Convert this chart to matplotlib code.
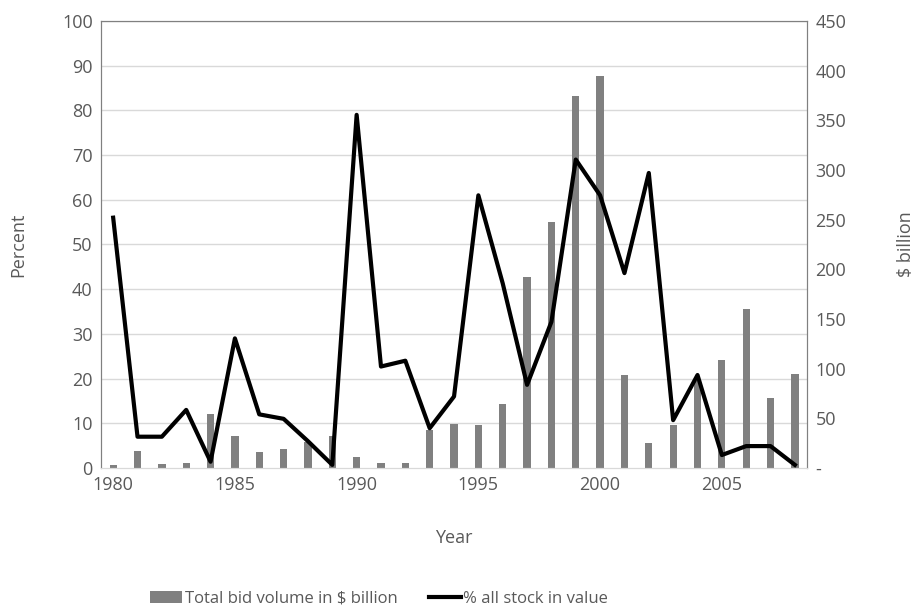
import matplotlib.pyplot as plt
import numpy as np

years = np.arange(1980, 2009)
bid_volume = [3, 17, 4, 5, 54, 32, 16, 19, 26, 32, 11, 5, 5, 38, 44,
              43, 64, 192, 248, 374, 395, 94, 25, 43, 88, 109, 160, 70, 95]
pct_stock = [56, 7, 7, 13, 1.4, 29, 12, 11, 6, 0.7, 79, 22.7, 24, 8.9, 16,
             61, 41.3, 18.6, 32.7, 69, 61, 43.6, 66, 10.7, 20.8, 2.9, 4.9, 4.9, 0.7]

plt.rcParams['font.family'] = ['Open Sans', 'DejaVu Sans']
txt = '#595959'
fs = 13

fig = plt.figure(figsize=(9.14, 6.12), dpi=100)
ax = fig.add_axes([0.1105, 0.2353, 0.7725, 0.7304])
ax2 = ax.twinx()

# gridlines beneath the bars
for v in range(10, 101, 10):
    ax2.axhline(v * 4.5, color='#d9d9d9', lw=1, zorder=0)
b = ax2.bar(years, bid_volume, width=0.3, color='#808080', zorder=2)
ax2.set_ylim(0, 450)
ax2.set_yticks(np.arange(0, 451, 50))
ax2.set_yticklabels(['-'] + [str(v) for v in range(50, 451, 50)])
ax2.set_ylabel('$ billion', color=txt, fontsize=fs)
ax2.yaxis.set_label_coords(1.1275, 0.5)

ax.set_zorder(ax2.get_zorder() + 1)
ax.patch.set_visible(False)
l, = ax.plot(years, pct_stock, color='black', lw=3)
ax.set_ylim(0, 100)
ax.set_yticks(np.arange(0, 101, 10))
ax.set_xlim(1979.5, 2008.5)
ax.set_xticks(np.arange(1980, 2006, 5))
ax.set_ylabel('Percent', color=txt, fontsize=fs)
ax.yaxis.set_label_coords(-0.105, 0.5)
ax.set_xlabel('Year', color=txt, fontsize=fs)
ax.xaxis.set_label_coords(0.5, -0.137)

for a in (ax, ax2):
    a.tick_params(length=0, labelsize=fs, labelcolor=txt, pad=6)
    for s in a.spines.values():
        s.set_color('#808080')
    a.spines['bottom'].set_color('#d9d9d9')

fig.legend([b, l], ['Total bid volume in $ billion', '% all stock in value'],
           loc='center', bbox_to_anchor=(0.415, 0.022), ncol=2, frameon=False,
           fontsize=12, labelcolor=txt, handlelength=1.9, handletextpad=0.15,
           columnspacing=1.9)

fig.savefig('out.png', dpi=100)
